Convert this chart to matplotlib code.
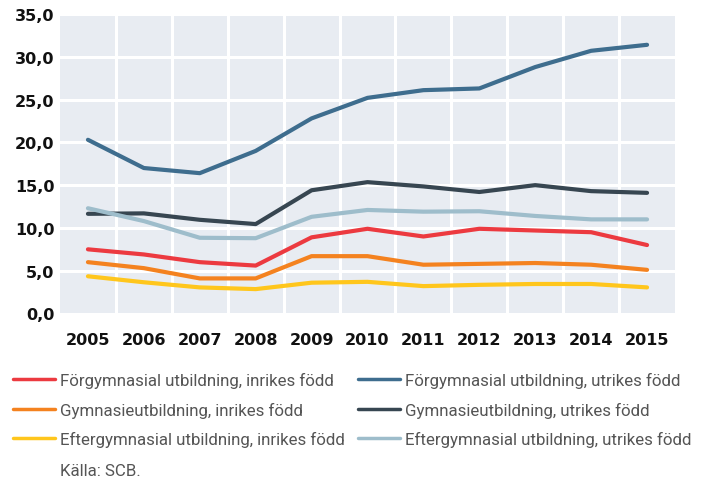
import matplotlib
matplotlib.use("Agg")
import matplotlib.pyplot as plt
import numpy as np

years = ["2005", "2006", "2007", "2008", "2009", "2010",
         "2011", "2012", "2013", "2014", "2015"]

forgymn_inrikes = [7.5, 6.9, 6.0, 5.6, 8.9, 9.9, 9.0, 9.9, 9.7, 9.5, 8.0]
gymn_inrikes = [6.0, 5.3, 4.1, 4.1, 6.7, 6.7, 5.7, 5.8, 5.9, 5.7, 5.1]
eftergymn_inrikes = [4.35, 3.65, 3.05, 2.85, 3.6, 3.7, 3.2, 3.35, 3.45, 3.45, 3.05]
forgymn_utrikes = [20.3, 17.0, 16.4, 19.0, 22.8, 25.2, 26.1, 26.3, 28.8, 30.7, 31.4]
gymn_utrikes = [11.65, 11.7, 10.95, 10.45, 14.4, 15.35, 14.85, 14.2, 15.0, 14.3, 14.1]
eftergymn_utrikes = [12.3, 10.8, 8.85, 8.8, 11.3, 12.1, 11.9, 11.95, 11.4, 11.0, 11.0]

labels = [
    "Förgymnasial utbildning, inrikes född",
    "Gymnasieutbildning, inrikes född",
    "Eftergymnasial utbildning, inrikes född",
    "Förgymnasial utbildning, utrikes född",
    "Gymnasieutbildning, utrikes född",
    "Eftergymnasial utbildning, utrikes född",
]
series = [forgymn_inrikes, gymn_inrikes, eftergymn_inrikes,
          forgymn_utrikes, gymn_utrikes, eftergymn_utrikes]
colors = ["#ec3a40", "#f4821f", "#ffc61c", "#3e6d8e", "#374651", "#9ebdcb"]

fig = plt.figure(figsize=(7.09, 4.81), dpi=100)
ax = fig.add_axes([60 / 709, 1 - 314.5 / 481, 615 / 709, 299.5 / 481])
ax.set_facecolor("#e8ecf2")

x = np.arange(len(years))
lines = []
for vals, col, lab in zip(series, colors, labels):
    ln, = ax.plot(x, vals, color=col, lw=3, solid_capstyle="round",
                  solid_joinstyle="round", label=lab, zorder=3)
    lines.append(ln)

ax.set_xlim(-0.5, len(years) - 0.5)
ax.set_ylim(0, 35)
ax.set_yticks(np.arange(0, 36, 5))
ax.set_yticklabels([f"{v:.1f}".replace(".", ",") for v in np.arange(0, 36, 5)])
ax.set_xticks(x)
ax.set_xticklabels(years)
ax.set_xticks(x[:-1] + 0.5, minor=True)

ax.grid(axis="y", which="major", color="white", lw=2.2)
ax.grid(axis="x", which="minor", color="white", lw=2.2)
ax.set_axisbelow(True)
for s in ax.spines.values():
    s.set_visible(False)
ax.tick_params(which="both", length=0)
ax.tick_params(axis="y", pad=4)
ax.tick_params(axis="x", pad=13)
for t in ax.get_xticklabels() + ax.get_yticklabels():
    t.set_fontsize(11.5)
    t.set_fontweight("bold")
    t.set_color("#111111")

leg_font = ["Roboto", "DejaVu Sans"]
leg = fig.legend(handles=lines, loc="upper left", ncol=2,
                 bbox_to_anchor=(13 / 709, 1 - 373 / 481), frameon=False,
                 prop={"family": leg_font, "size": 12.2},
                 handlelength=2.5, handletextpad=0.3, columnspacing=0.75,
                 labelspacing=0.8, borderpad=0, borderaxespad=0)
for t in leg.get_texts():
    t.set_color("#555555")
for h in leg.get_lines():
    h.set_linewidth(2.5)

fig.text(60 / 709, 1 - 472 / 481, "Källa: SCB.", family=leg_font, size=12.2,
         color="#555555", va="center", ha="left")

fig.savefig("out.png", dpi=100)
